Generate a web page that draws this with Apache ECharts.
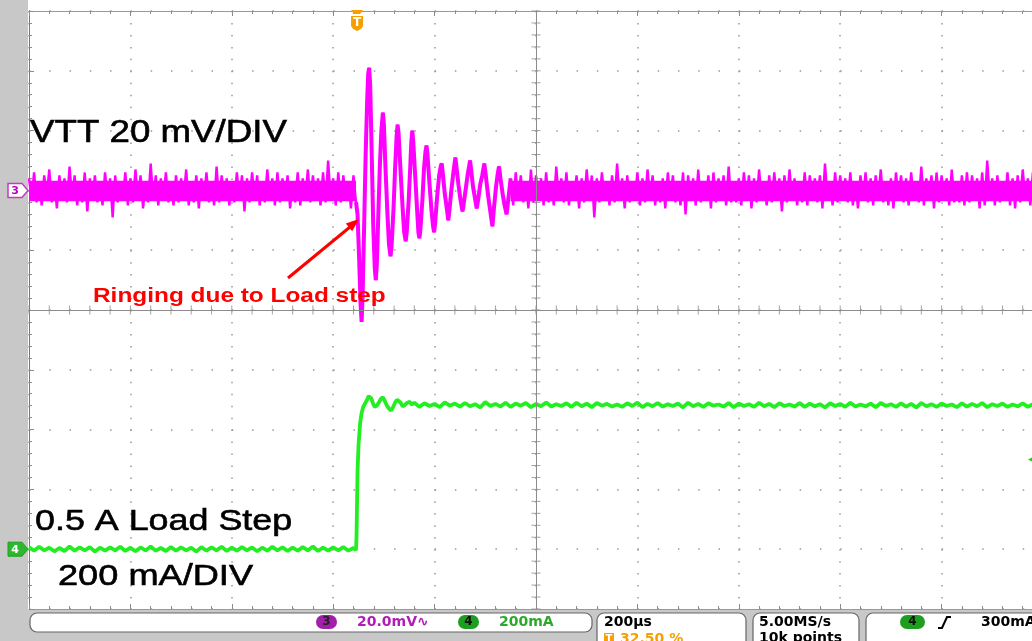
<!DOCTYPE html>
<html><head><meta charset="utf-8">
<script src="https://cdn.jsdelivr.net/npm/echarts@6.0.0/dist/echarts.min.js"></script>
<style>html,body{margin:0;padding:0;background:#fff;}#c{width:1032px;height:641px;}</style>
</head><body><div id="c"></div>
<script>
// ---------- DATA ----------
// Time axis: 200 us/div, 10 div -> 0..2000 us across the screen, trigger at 32.5 % (650 us)
const TIME_RANGE_US = [0, 2000];
const TRIGGER_US = 650;
// CH3 VTT (mV, 20 mV/div, ref marker 2 div above centre)
const VTT_STEP_US = 5;
const VTT_NOISE_CORE_MV = [-3.6, 3.2];   // dense part of the noise band
const vttPre = [
4,-3,6,-4,3,-5,5,-2,7,-4,
3,-6,5,-3,4,-4,8,-3,5,-5,
2,-4,6,-7,4,-3,5,-4,3,-5,
6,-3,4,-9,5,-4,3,-3,6,-5,
4,-4,7,-3,5,-6,3,-4,9,-3,
5,-5,4,-3,6,-4,3,-5,5,-4,
4,-3,7,-5,3,-4,5,-6,4,-3,
6,-4,3,-5,8,-4,5,-3,4,-5,
3,-4,6,-3,5,-7,4,-4,6,-3,
5,-5,3,-4,7,-3,4,-5,6,-4,
4,-3,5,-6,3,-4,6,-5,4,-3,
7,-4,5,-3,4,-5,6,-4,10,-3,
4,-5,6,-4,5,-3,3,-6,5,-4];
// ringing after the load step: [time us, mV]
const vttRing = [
[645,-4],[648,-8],[651,-22],[654,-38],[656,-44],[658,-35],[661,-12],[664,12],[667,30],[669,39],[671,41],[673,35],
[676,12],[679,-12],[682,-26],[684,-30],[686,-25],[689,-8],[692,8],[695,20],[698,26],[700,22],
[703,8],[707,-8],[710,-18],[713,-22],[715,-19],[719,-6],[722,7],[725,18],[727,22],[729,19],
[733,6],[737,-6],[740,-14],[743,-17],[745,-14],[749,-3],[752,8],[754,16],[756,20],[758,16],
[762,4],[766,-8],[768,-14],[770,-16],[772,-13],[776,-3],[779,7],[782,13],[784,15],[786,12],
[790,2],[794,-7],[797,-12],[799,-14],[801,-11],[805,-2],[809,5],[812,8],[814,9],[816,6],
[820,-1],[824,-6],[827,-10],[829,-7],[833,0],[837,6],[841,11],[843,8],[847,2],[851,-3],
[855,-7],[857,-5],[861,0],[865,5],[870,10],[872,7],[876,1],[880,-3],[883,-6],[886,-3],
[890,2],[894,5],[898,9],[901,5],[905,-1],[909,-6],[914,-12],[917,-6],[921,1],[924,5],
[927,8],[930,4],[934,-1],[938,-5],[942,-8],[946,-2],[950,4]];
const VTT_POST_START_US = 950;
const vttPost = [
4,-5,6,-3,5,-4,3,-6,7,-4,
5,-3,4,-5,6,-4,3,-5,8,-3,
4,-4,6,-5,3,-3,5,-6,4,-4,
7,-3,5,-9,4,-4,6,-3,3,-5,
5,-4,9,-3,4,-6,5,-4,3,-3,
6,-5,4,-4,7,-3,5,-5,3,-4,
4,-6,6,-3,5,-4,3,-5,6,-8,
5,-3,4,-5,7,-4,3,-3,5,-6,
6,-4,4,-3,5,-5,8,-4,3,-4,
4,-5,6,-3,5,-6,4,-4,7,-3,
3,-5,5,-4,6,-3,4,-7,5,-4,
7,-3,4,-5,3,-4,6,-5,5,-3,
4,-4,5,-6,9,-3,3,-5,6,-4,
5,-3,4,-4,6,-5,3,-6,5,-3,
6,-4,4,-5,5,-3,7,-4,3,-5,
4,-6,6,-3,5,-4,4,-5,6,-3,
3,-4,8,-5,4,-3,5,-6,6,-4,
5,-3,4,-5,7,-4,3,-4,5,-5,
6,-4,5,-3,4,-6,6,-5,10,-3,
4,-5,5,-4,3,-3,6,-5,4,-6,
5,-4,7,-3,4,-5,6,-4,3,-5,
4];
// CH4 load current (mA, 200 mA/div, ref marker 4 div below centre)
const I_STEP_US = 10;
const iPre = [
6,-5,8,-4,5,-7,4,-6,9,-5,
6,-4,7,-8,5,-5,6,-4,8,-6,
5,-7,6,-4,9,-5,4,-6,7,-5,
6,-4,5,-8,7,-5,6,-4,8,-6,
5,-5,7,-4,6,-7,5,-5,8,-4,
6,-6,5,-5,7,-4,9,-6,5,-5,
6,-4,7,-5,4];
const iStep = [
[645,-3],[646,40],[647,150],[648,260],[650,350],[653,420],[656,455],[659,475],[663,488],[667,500],
[670,512],[672,515],[675,505],[679,485],[682,476],[686,480],[690,490],[694,503],[698,508],[702,495],
[706,480],[710,470],[714,464],[718,475],[722,490],[726,500],[729,503],[733,490],[737,478],[741,482],
[746,490],[751,493],[755,484]];
const I_POST_START_US = 760;
const iPost = [
490,476,488,479,486,475,491,480,487,477,
489,478,485,474,492,479,486,477,490,476,
487,480,489,475,486,478,491,477,485,479,
488,476,490,478,487,475,489,480,486,477,
484,476,488,479,490,475,486,478,489,477,
485,479,487,474,490,478,486,476,488,480,
484,477,489,475,487,479,485,476,490,478,
486,475,488,479,484,477,489,476,487,478,
485,474,488,479,486,476,490,477,484,478,
487,475,489,479,485,476,488,477,486,474,
489,478,485,476,487,479,484,475,488,477,
486,478,489,475,485,479,487,476,484,478,
488,476,485,479,487];
const TRIG_LEVEL_MA = 300;
// Vertical scales (in channel units)
const VTT_AXIS = {min:-140, max:60, interval:20};
const I_AXIS = {min:-200, max:1800, interval:200};

// ---------- build ----------
const vttData = [];
vttPre.forEach((v,i)=>vttData.push([i*VTT_STEP_US, v]));
vttRing.forEach(p=>vttData.push(p));
vttPost.forEach((v,i)=>vttData.push([VTT_POST_START_US + i*VTT_STEP_US, v]));
const iData = [];
iPre.forEach((v,i)=>iData.push([i*I_STEP_US, v]));
iStep.forEach(p=>iData.push(p));
iPost.forEach((v,i)=>iData.push([I_POST_START_US + i*I_STEP_US, v]));
const preEnd = (vttPre.length-1)*VTT_STEP_US;
const postEnd = VTT_POST_START_US + (vttPost.length-1)*VTT_STEP_US;

// graticule centre-line ticks (1/5 division)
const centreT = (TIME_RANGE_US[0]+TIME_RANGE_US[1])/2;
const centreV = VTT_AXIS.min + (VTT_AXIS.max-VTT_AXIS.min)/2;
const ticksOnV = [], ticksOnH = [];
for (let k=0;k<=50;k++){ ticksOnV.push([centreT, VTT_AXIS.min + k*VTT_AXIS.interval/5]); }
for (let k=0;k<=50;k++){ ticksOnH.push([TIME_RANGE_US[0] + k*200/5, centreV]); }

const GRID = {left:29, top:11, width:1014, height:598};
const GRAT = '#8c8c8c';
const MAG = '#ff00ff', GRN = '#22ee22';

const chart = echarts.init(document.getElementById('c'), null, {renderer:'canvas'});
const xCommon = {type:'value', min:TIME_RANGE_US[0], max:TIME_RANGE_US[1], interval:200,
  axisLabel:{show:false}, axisLine:{show:true, onZero:false, lineStyle:{color:'#999', width:1}},
  axisTick:{show:true, inside:true, length:5, lineStyle:{color:GRAT}},
  minorTick:{show:true, splitNumber:5, length:3, lineStyle:{color:GRAT}}};
chart.setOption({
  animation:false,
  backgroundColor:'#ffffff',
  grid:{left:GRID.left, top:GRID.top, width:GRID.width, height:GRID.height, outerBoundsMode:'none', containLabel:false,
        show:true, backgroundColor:'#ffffff', borderWidth:0},
  xAxis:[
    Object.assign({}, xCommon, {position:'bottom',
      splitLine:{show:true, lineStyle:{color:'#999', width:1.5, type:[1.5, 10.46]}}}),
    Object.assign({}, xCommon, {position:'top', splitLine:{show:false}})
  ],
  yAxis:[
    {type:'value', min:VTT_AXIS.min, max:VTT_AXIS.max, interval:VTT_AXIS.interval, position:'left',
     axisLabel:{show:false}, axisLine:{show:true, onZero:false, lineStyle:{color:'#777', width:1}},
     axisTick:{show:true, inside:true, length:5, lineStyle:{color:GRAT}},
     minorTick:{show:true, splitNumber:5, length:3, lineStyle:{color:GRAT}},
     splitLine:{show:true, lineStyle:{color:'#999', width:1.5, type:[1.5, 18.78]}}},
    {type:'value', min:I_AXIS.min, max:I_AXIS.max, interval:I_AXIS.interval, show:false, splitLine:{show:false}}
  ],
  series:[
    {type:'scatter', name:'tickV', data:ticksOnV, symbol:'rect', symbolSize:[9,1], silent:true, z:1,
     itemStyle:{color:GRAT},
     markLine:{silent:true, symbol:['none','none'], label:{show:false}, animation:false,
       lineStyle:{color:GRAT, width:1, type:'solid'},
       data:[{xAxis:centreT},{yAxis:centreV}]}},
    {type:'scatter', name:'tickH', data:ticksOnH, symbol:'rect', symbolSize:[1,9], silent:true, z:1,
     itemStyle:{color:GRAT}},
    {type:'line', name:'CH4 current', xAxisIndex:0, yAxisIndex:1, data:iData, showSymbol:false, z:3,
     lineStyle:{color:GRN, width:3.8}, silent:true},
    {type:'line', name:'CH3 VTT', xAxisIndex:0, yAxisIndex:0, data:vttData, showSymbol:false, z:4,
     lineStyle:{color:MAG, width:2.4}, silent:true,
     markArea:{silent:true, itemStyle:{color:MAG, opacity:1}, label:{show:false},
       data:[[{xAxis:0, yAxis:VTT_NOISE_CORE_MV[0]},{xAxis:preEnd, yAxis:VTT_NOISE_CORE_MV[1]}],
             [{xAxis:VTT_POST_START_US, yAxis:VTT_NOISE_CORE_MV[0]},{xAxis:postEnd, yAxis:VTT_NOISE_CORE_MV[1]}]]}},
    {type:'line', name:'CH3 ringing', xAxisIndex:0, yAxisIndex:0, data:vttRing, showSymbol:false, z:4,
     lineStyle:{color:MAG, width:4}, silent:true}
  ]
});

// ---------- overlays ----------
const px = t => chart.convertToPixel({xAxisIndex:0}, t);
const py3 = v => chart.convertToPixel({yAxisIndex:0}, v);
const py4 = v => chart.convertToPixel({yAxisIndex:1}, v);
const y3 = py3(0), y4 = py4(0), xT = px(TRIGGER_US) - 1.5, yTrig = py4(TRIG_LEVEL_MA);
const LS = '"Liberation Sans", Arial, sans-serif';
const DJ = '"DejaVu Sans", sans-serif';
function txt(x,y,text,o){
  return Object.assign({type:'text', x:x, y:y, z:100,
    style:Object.assign({text:text, x:0, y:0, fill:'#000', fontFamily:LS, fontSize:14,
      align:'left', verticalAlign:'middle'}, o.style||{})}, o.el||{});
}
function pill(x,y,w,label,fill,tcol){
  return [
    {type:'rect', z:100, shape:{x:x, y:y-7, width:w, height:14, r:7}, style:{fill:fill}},
    {type:'text', z:101, style:{text:label, x:x+w/2, y:y, align:'center', verticalAlign:'middle',
      fill:tcol, fontFamily:DJ, fontWeight:'bold', fontSize:12}}];
}
const g = [];
// frame pieces
g.push({type:'rect', z:50, shape:{x:0,y:0,width:28,height:641}, style:{fill:'#c8c8c8'}});
g.push({type:'rect', z:50, shape:{x:0,y:610,width:1032,height:31}, style:{fill:'#c8c8c8'}});
// status boxes
g.push({type:'rect', z:60, shape:{x:30,y:613,width:562,height:19,r:7}, style:{fill:'#fff', stroke:'#666', lineWidth:1.2}});
g.push({type:'rect', z:60, shape:{x:597,y:613,width:149,height:36,r:7}, style:{fill:'#fff', stroke:'#666', lineWidth:1.2}});
g.push({type:'rect', z:60, shape:{x:753,y:613,width:106,height:36,r:7}, style:{fill:'#fff', stroke:'#666', lineWidth:1.2}});
g.push({type:'rect', z:60, shape:{x:866,y:613,width:180,height:36,r:7}, style:{fill:'#fff', stroke:'#666', lineWidth:1.2}});
g.push(...pill(316,622,21,'3','#a020a8','#222'));
g.push(txt(357,622,'20.0mV\u223F',{style:{fill:'#b01cb8', fontFamily:DJ, fontWeight:'bold', fontSize:14}}));
g.push(...pill(458,622,21,'4','#1e9e1e','#111'));
g.push(txt(499,622,'200mA',{style:{fill:'#2aaa2a', fontFamily:DJ, fontWeight:'bold', fontSize:14}}));
g.push(txt(604,622,'200\u00B5s',{style:{fontFamily:DJ, fontWeight:'bold', fontSize:14}}));
g.push({type:'rect', z:100, shape:{x:604,y:633,width:10,height:10}, style:{fill:'#f5a000'}});
g.push(txt(609,639,'T',{style:{fill:'#fff', fontFamily:DJ, fontWeight:'bold', fontSize:10, align:'center'}}));
g.push(txt(620,639,'32.50 %',{style:{fill:'#f5a000', fontFamily:DJ, fontWeight:'bold', fontSize:14}}));
g.push(txt(759,622,'5.00MS/s',{style:{fontFamily:DJ, fontWeight:'bold', fontSize:14}}));
g.push(txt(759,638,'10k points',{style:{fontFamily:DJ, fontWeight:'bold', fontSize:14}}));
g.push(...pill(900,622,25,'4','#1e9e1e','#111'));
g.push({type:'polyline', z:100, shape:{points:[[938,628],[942,628],[947,617],[951,617]]}, style:{stroke:'#000', lineWidth:2, fill:null}});
g.push(txt(981,622,'300mA',{style:{fontFamily:DJ, fontWeight:'bold', fontSize:14}}));
// channel reference markers
g.push({type:'polygon', z:100, shape:{points:[[8,y3-7],[22,y3-7],[28,y3],[22,y3+7],[8,y3+7]]}, style:{fill:'#fff', stroke:'#c03cc0', lineWidth:1.5}});
g.push(txt(15,y3+0.5,'3',{style:{fill:'#c000c0', fontFamily:DJ, fontWeight:'bold', fontSize:11, align:'center'}}));
g.push({type:'polygon', z:100, shape:{points:[[8,y4-7],[22,y4-7],[28,y4],[22,y4+7],[8,y4+7]]}, style:{fill:'#2fb82f', stroke:'#1e9e1e', lineWidth:1}});
g.push(txt(15,y4+0.5,'4',{style:{fill:'#fff', fontFamily:DJ, fontWeight:'bold', fontSize:11, align:'center'}}));
// trigger position marker
g.push({type:'polygon', z:100, shape:{points:[[xT-6,10],[xT+6,10],[xT+3,14],[xT-3,14]]}, style:{fill:'#f5a000'}});
g.push({type:'polygon', z:100, shape:{points:[[xT-6,16],[xT+6,16],[xT+6,26],[xT+4,29],[xT,31],[xT-4,29],[xT-6,26]]}, style:{fill:'#f5a000'}});
g.push(txt(xT,23,'T',{style:{fill:'#fff', fontFamily:DJ, fontWeight:'bold', fontSize:12, align:'center'}}));
// trigger level marker (ch4)
g.push({type:'polygon', z:100, shape:{points:[[1028,yTrig],[1034,yTrig-3],[1034,yTrig+3]]}, style:{fill:'#22cc22'}});
// annotations
const heavy = {stroke:'#000', lineWidth:0.6};
g.push(txt(30,133,'VTT 20 mV/DIV',{style:Object.assign({fontSize:32}, heavy), el:{scaleX:1.147}}));
g.push(txt(35,522,'0.5 A Load Step',{style:Object.assign({fontSize:30}, heavy), el:{scaleX:1.195}}));
g.push(txt(58,577,'200 mA/DIV',{style:Object.assign({fontSize:30}, heavy), el:{scaleX:1.206}}));
g.push(txt(93,296,'Ringing due to Load step',{style:{fontSize:20, fontWeight:'bold', fill:'#ff0000'}, el:{scaleX:1.22}}));
g.push({type:'line', z:100, shape:{x1:288,y1:278,x2:350,y2:227}, style:{stroke:'#ff0000', lineWidth:3}});
g.push({type:'polygon', z:100, shape:{points:[[359,219],[352.2,231.2],[345.8,223.5]]}, style:{fill:'#ff0000'}});
chart.setOption({graphic:{elements:g}});
</script>
</body></html>
